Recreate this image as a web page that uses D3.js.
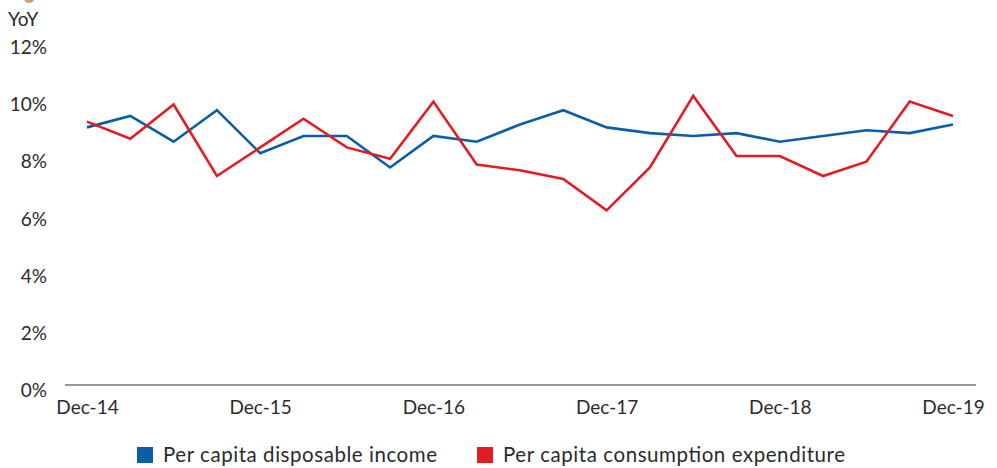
<!DOCTYPE html>
<html>
<head>
<meta charset="utf-8">
<script src="https://cdn.jsdelivr.net/npm/d3@7"></script>
<style>
  html, body { margin: 0; padding: 0; background: #fff; }
  svg text { font-family: Lato, "Open Sans", sans-serif; fill: #2b2b2b; }
</style>
</head>
<body>
<svg id="chart" width="997" height="468"></svg>
<script>
// YoY growth, quarterly, Dec-14 .. Dec-19
var quarters = ["Dec-14","Mar-15","Jun-15","Sep-15","Dec-15","Mar-16","Jun-16","Sep-16",
  "Dec-16","Mar-17","Jun-17","Sep-17","Dec-17","Mar-18","Jun-18","Sep-18",
  "Dec-18","Mar-19","Jun-19","Sep-19","Dec-19"];
var income = [9.0, 9.4, 8.5, 9.6, 8.1, 8.7, 8.7, 7.6, 8.7, 8.5, 9.1, 9.6, 9.0, 8.8, 8.7, 8.8,
  8.5, 8.7, 8.9, 8.8, 9.1];
var consumption = [9.2, 8.6, 9.8, 7.3, 8.3, 9.3, 8.3, 7.9, 9.9, 7.7, 7.5, 7.2, 6.1, 7.6, 10.1, 8.0,
  8.0, 7.3, 7.8, 9.9, 9.4];
var xLabels = ["Dec-14","Dec-15","Dec-16","Dec-17","Dec-18","Dec-19"];
var yTicks = [0, 2, 4, 6, 8, 10, 12];

var svg = d3.select("#chart");

var x = d3.scalePoint().domain(quarters).range([87, 953]);
var y = d3.scaleLinear().domain([0, 12]).range([385, 41.5]);

// top-left ornament cut off by the crop
svg.append("ellipse").attr("cx", 29).attr("cy", -1).attr("rx", 5).attr("ry", 4)
  .attr("fill", "#c9a46a");

// y axis label
svg.append("text").attr("x", 8).attr("y", 26).attr("font-size", 19).text("YoY");

// y tick labels (no axis line)
var yAxis = d3.axisLeft(y).tickValues(yTicks).tickSize(0).tickPadding(0)
  .tickFormat(function (d) { return d + "%"; });
var gy = svg.append("g").attr("transform", "translate(47,0)").call(yAxis);
gy.select(".domain").remove();
gy.selectAll("text").attr("font-size", 19).attr("fill", "#2b2b2b")
  .attr("font-family", "Lato, 'Open Sans', sans-serif").attr("dy", "0.62em");

// x axis
svg.append("line").attr("x1", 65).attr("x2", 976).attr("y1", y(0)).attr("y2", y(0))
  .attr("stroke", "#333").attr("stroke-width", 1.2);
var xAxis = d3.axisBottom(x).tickValues(xLabels).tickSize(0).tickPadding(0);
var gx = svg.append("g").attr("transform", "translate(0," + y(0) + ")").call(xAxis);
gx.select(".domain").remove();
gx.selectAll("text").attr("font-size", 19).attr("fill", "#2b2b2b")
  .attr("font-family", "Lato, 'Open Sans', sans-serif").attr("dy", "1.5em");

// lines
var line = d3.line().x(function (d, i) { return x(quarters[i]); }).y(function (d) { return y(d); });
svg.append("path").datum(income).attr("d", line).attr("fill", "none")
  .attr("stroke", "#0a5ea8").attr("stroke-width", 2.6).attr("stroke-linejoin", "miter");
svg.append("path").datum(consumption).attr("d", line).attr("fill", "none")
  .attr("stroke", "#e31c24").attr("stroke-width", 2.6).attr("stroke-linejoin", "miter");

// legend
var legend = [
  { name: "Per capita disposable income", color: "#0a5ea8", x: 137, w: 274 },
  { name: "Per capita consumption expenditure", color: "#e31c24", x: 477, w: 342 }
];
var lg = svg.append("g").selectAll("g").data(legend).enter().append("g")
  .attr("transform", function (d) { return "translate(" + d.x + ",447)"; });
lg.append("rect").attr("width", 16).attr("height", 16).attr("fill", function (d) { return d.color; });
lg.append("text").attr("x", 26).attr("y", 15).attr("font-size", 20.5)
  .attr("textLength", function (d) { return d.w; }).attr("lengthAdjust", "spacing")
  .text(function (d) { return d.name; });
</script>
</body>
</html>
